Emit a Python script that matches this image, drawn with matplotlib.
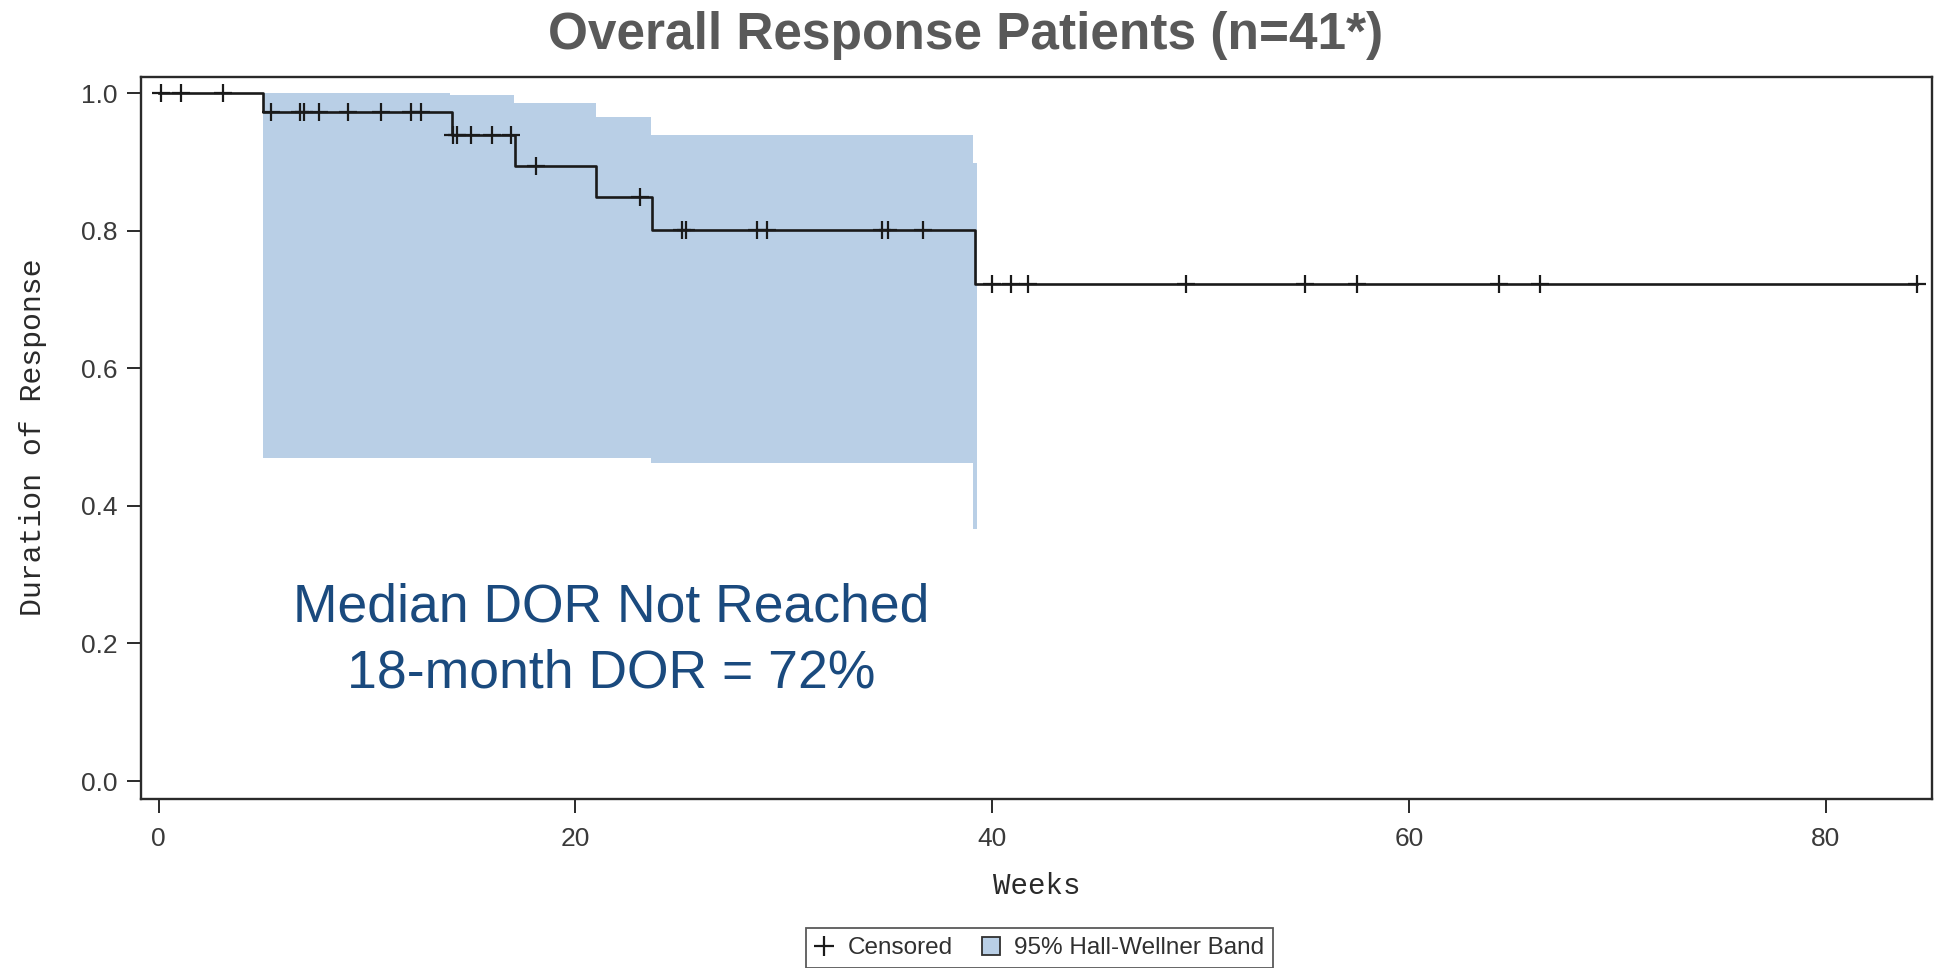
import numpy as np
import matplotlib
matplotlib.use("Agg")
import matplotlib.pyplot as plt
from matplotlib.lines import Line2D
from matplotlib.patches import Patch

# ---------------- data ----------------
event_weeks = [5.0, 14.1, 17.1, 21.0, 23.7, 39.2]
survival_after_event = [0.973, 0.939, 0.894, 0.849, 0.801, 0.722]
censor_weeks = [0.1, 1.1, 3.1,
                5.4, 6.8, 7.0, 7.7, 9.1, 10.7, 12.1, 12.6,
                14.15, 14.3, 15.0, 16.0, 16.9,
                18.1, 23.1,
                25.1, 25.3, 28.7, 29.2, 34.7, 35.0, 36.7,
                40.0, 40.9, 41.7, 49.3, 55.0, 57.5, 64.3, 66.3, 84.4]
last_followup = 84.4

band_weeks = [5.0, 14.0, 17.05, 21.0, 23.65, 39.1, 39.27]
band_upper = [1.0, 0.997, 0.986, 0.965, 0.939, 0.898, 0.898]
band_lower = [0.470, 0.470, 0.470, 0.470, 0.463, 0.366, 0.366]

x_ticks = [0, 20, 40, 60, 80]
y_ticks = [0.0, 0.2, 0.4, 0.6, 0.8, 1.0]

title = "Overall Response Patients (n=41*)"
note_lines = ["Median DOR Not Reached", "18-month DOR = 72%"]
x_label = "Weeks"
y_label = "Duration of Response"

# ---------------- styling ----------------
W, H = 1936, 968
band_color = "#B9CFE6"
curve_color = "#1a1a1a"
note_color = "#1A4A7E"
sans = ["Liberation Sans", "DejaVu Sans"]
mono = ["Liberation Mono", "DejaVu Sans Mono"]

fig = plt.figure(figsize=(W / 100, H / 100), dpi=100)
ax = fig.add_axes([141 / W, 1 - 799 / H, (1932 - 141) / W, (799 - 77) / H])

# confidence band
ax.fill_between(band_weeks, band_lower, band_upper, step="post",
                facecolor=band_color, edgecolor="none", linewidth=0, zorder=1)

# KM step curve
xs = [0.0] + event_weeks + [last_followup]
ys = [1.0] + survival_after_event + [survival_after_event[-1]]
ax.step(xs, ys, where="post", color=curve_color, linewidth=1.9, zorder=3)

# censor marks on the curve
levels = np.array([1.0] + survival_after_event)
idx = np.searchsorted(np.array(event_weeks), np.array(censor_weeks), side="right")
ax.plot(censor_weeks, levels[idx], linestyle="none", marker="+",
        markersize=13, markeredgewidth=1.6, color=curve_color, zorder=4)

ax.set_xlim(-0.84, 85.1)
ax.set_ylim(-0.026, 1.0233)
ax.set_xticks(x_ticks)
ax.set_xticklabels([str(v) for v in x_ticks])
ax.set_yticks(y_ticks)
ax.set_yticklabels([f"{v:.1f}" for v in y_ticks])

for sp in ax.spines.values():
    sp.set_color("#2a2a2a")
    sp.set_linewidth(1.7)

ax.tick_params(axis="y", direction="out", length=10, width=1.4, color="#2a2a2a",
               pad=7, labelsize=19, labelcolor="#3a3a3a")
ax.tick_params(axis="x", direction="out", length=10, width=1.4, color="#2a2a2a",
               pad=10, labelsize=19, labelcolor="#3a3a3a")
for lab in ax.get_xticklabels() + ax.get_yticklabels():
    lab.set_family(sans)

# axis labels
fig.text(33 / W, 1 - 437 / H, y_label, rotation=90, ha="center", va="center",
         family=mono, fontsize=21.5, color="#2a2a2a")
fig.text(1036.5 / W, 1 - 894 / H, x_label, ha="center", va="baseline",
         family=mono, fontsize=21, color="#2a2a2a")

# title
fig.text(966 / W, 1 - 35 / H, title, ha="center", va="center",
         family=sans, fontsize=37, fontweight="bold", color="#595959")

# annotation text
fig.text(611 / W, 1 - 622 / H, note_lines[0], ha="center", va="baseline",
         family=sans, fontsize=38.5, color=note_color)
fig.text(611 / W, 1 - 687 / H, note_lines[1], ha="center", va="baseline",
         family=sans, fontsize=38.5, color=note_color)

# legend
handles = [
    Line2D([], [], linestyle="none", marker="+", markersize=14,
           markeredgewidth=1.6, color=curve_color),
    Patch(facecolor=band_color, edgecolor="#303030", linewidth=1.3),
]
leg = fig.legend(handles, ["Censored", "95% Hall-Wellner Band"], ncol=2,
                 loc="center", bbox_to_anchor=(1039.5 / W, 1 - 948 / H),
                 prop={"family": sans, "size": 17.5}, frameon=True, fancybox=False,
                 handlelength=0.75, handleheight=0.75, handletextpad=0.6,
                 columnspacing=1.2, borderpad=0.35, borderaxespad=0)
leg.get_frame().set_edgecolor("#303030")
leg.get_frame().set_linewidth(1.3)
for t in leg.get_texts():
    t.set_color("#303030")

fig.savefig("out.png", dpi=100)
